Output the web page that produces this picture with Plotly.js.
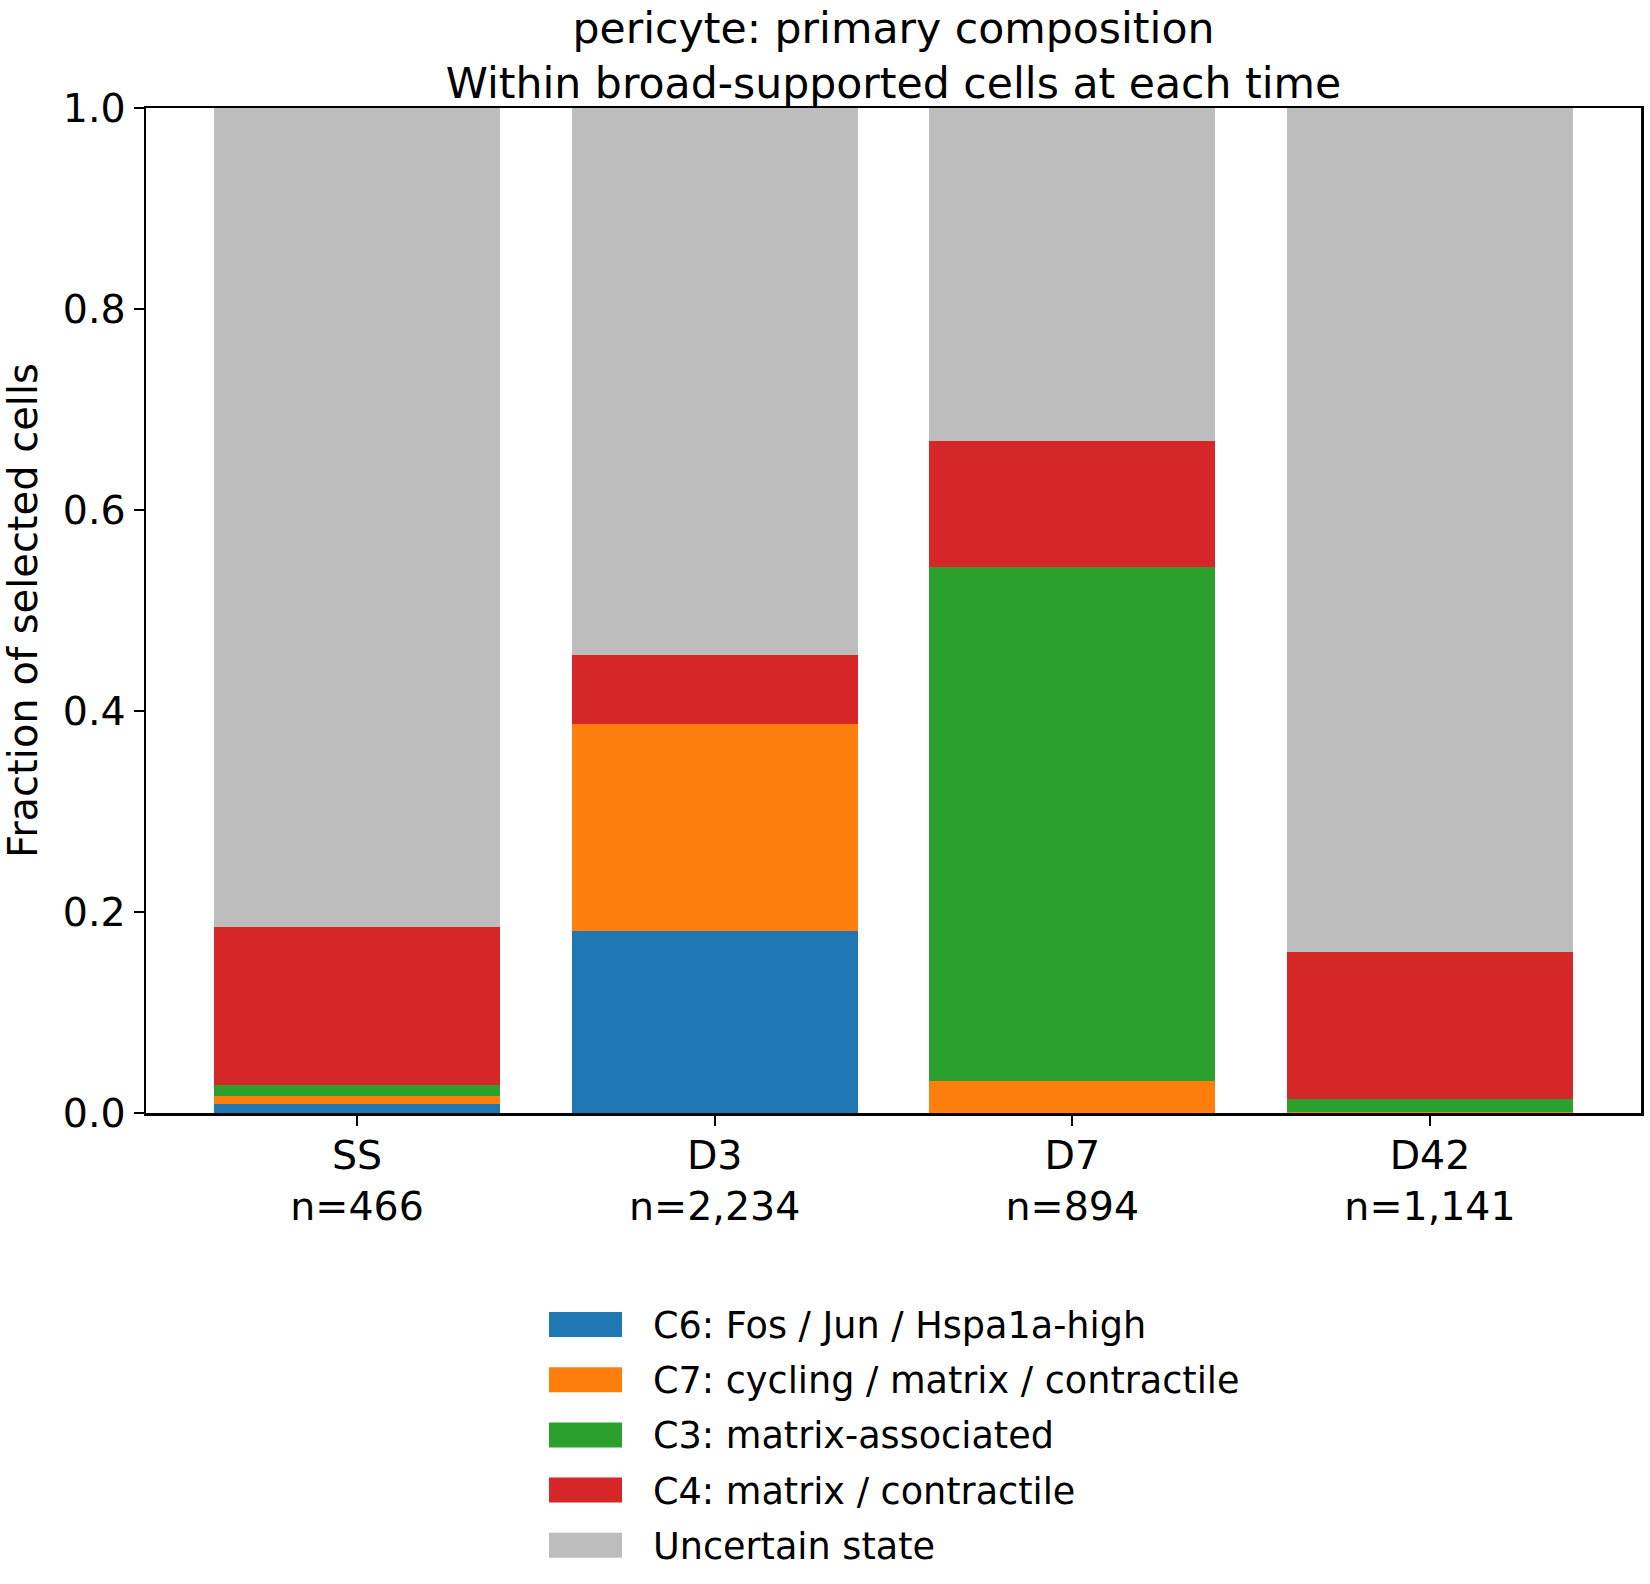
<!DOCTYPE html>
<html>
<head>
<meta charset="utf-8">
<script src="https://cdn.plot.ly/plotly-3.0.1.min.js"></script>
<style>
  html, body { margin: 0; padding: 0; background: #fff; }
  #chart { width: 1650px; height: 1584px; }
</style>
</head>
<body>
<div id="chart"></div>
<script>
// time points and cell counts
const timepoints = ['SS', 'D3', 'D7', 'D42'];
const cellCounts = [466, 2234, 894, 1141];

// state names, stacked bottom to top
const stateNames = [
  'C6: Fos / Jun / Hspa1a-high',
  'C7: cycling / matrix / contractile',
  'C3: matrix-associated',
  'C4: matrix / contractile',
  'Uncertain state'
];
const stateColors = ['#1f77b4', '#ff7f0e', '#2ca02c', '#d62728', '#bdbdbd'];

// fractions per state
const fosJun      = [0.0086, 0.181, 0.000, 0.000];
const cycling     = [0.0086, 0.206, 0.032, 0.001];
const matrixAssoc = [0.0107, 0.000, 0.511, 0.013];
const matrixContr = [0.1567, 0.069, 0.126, 0.146];
const uncertain   = [0.8155, 0.544, 0.331, 0.840];

const yTicks = [0, 0.2, 0.4, 0.6, 0.8, 1.0];

(function(){
  const FONT = 'DejaVu Sans, Verdana, sans-serif';
  const W = 1650, H = 1584;
  const M = { l: 146, r: 9, t: 108, b: 471 };
  const plotW = W - M.l - M.r, plotH = H - M.t - M.b;
  const TICK = 39.5, LEG = 36.6, TITLE = 42.6;

  const series = [fosJun, cycling, matrixAssoc, matrixContr, uncertain];
  const traces = series.map(function(vals, i){
    return {
      type: 'bar', name: stateNames[i], x: timepoints, y: vals, width: 0.8,
      marker: { color: stateColors[i], line: { width: 0 } },
      showlegend: false, hoverinfo: 'name+y'
    };
  });

  const tickText = timepoints.map(function(t, i){
    return t + '<br>n=' + cellCounts[i].toLocaleString('en-US');
  });

  // legend drawn below the axes, one row per state
  const shapes = [], annotations = [];
  const px = function(x){ return (x - M.l) / plotW; };
  const py = function(y){ return (H - M.b - y) / plotH; };
  stateNames.forEach(function(name, i){
    const cy = 1324.5 + i * 55.2;
    shapes.push({ type: 'rect', xref: 'paper', yref: 'paper',
      x0: px(549), x1: px(622), y0: py(cy - 12.5), y1: py(cy + 12.5),
      fillcolor: stateColors[i], line: { width: 0 } });
    annotations.push({ xref: 'paper', yref: 'paper', x: px(651), y: py(cy + 1),
      xanchor: 'left', yanchor: 'middle', showarrow: false, text: name,
      font: { family: FONT, size: LEG, color: '#000' } });
  });

  const layout = {
    width: W, height: H,
    margin: M,
    paper_bgcolor: '#fff', plot_bgcolor: '#fff',
    font: { family: FONT, size: TICK, color: '#000' },
    barmode: 'stack', bargap: 0,
    title: {
      text: 'pericyte: primary composition<br>Within broad-supported cells at each time',
      font: { family: FONT, size: TITLE, color: '#000' },
      xref: 'paper', x: 0.5, xanchor: 'center',
      yref: 'container', y: 0.973, yanchor: 'top'
    },
    xaxis: {
      type: 'category', range: [-0.59, 3.59],
      tickmode: 'array', tickvals: timepoints, ticktext: tickText,
      ticks: 'outside', ticklen: 10, tickwidth: 2, tickcolor: '#000',
      ticklabelstandoff: -4,
      showline: true, linecolor: '#000', linewidth: 2.5, mirror: true,
      showgrid: false, zeroline: false, automargin: false,
      tickfont: { family: FONT, size: TICK, color: '#000' }
    },
    yaxis: {
      range: [0, 1], tickmode: 'array', tickvals: yTicks, tickformat: '.1f',
      ticks: 'outside', ticklen: 10, tickwidth: 2, tickcolor: '#000',
      showline: true, linecolor: '#000', linewidth: 2.5, mirror: true,
      showgrid: false, zeroline: false, automargin: false,
      tickfont: { family: FONT, size: TICK, color: '#000' },
      title: { text: 'Fraction of selected cells', standoff: 14,
        font: { family: FONT, size: 40, color: '#000' } }
    },
    shapes: shapes,
    annotations: annotations
  };

  Plotly.newPlot('chart', traces, layout, { displayModeBar: false, responsive: false, staticPlot: true });
})();
</script>
</body>
</html>
